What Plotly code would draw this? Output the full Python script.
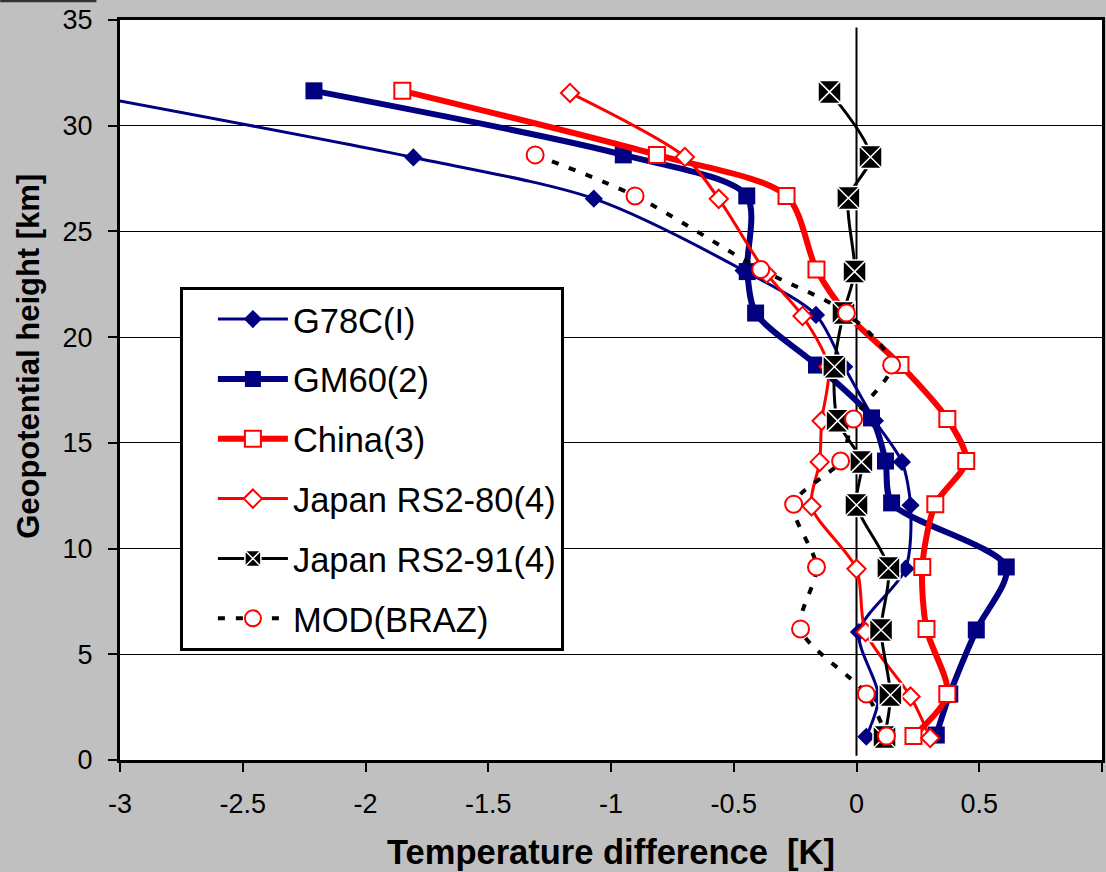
import plotly.graph_objects as go

# ---------------- data ----------------
g78c_x = [-3.2, -1.805, -1.07, -0.46, -0.165, -0.05, 0.075, 0.185, 0.22, 0.20, 0.01, 0.09, 0.04]
g78c_y = [31.6, 28.5, 26.55, 23.15, 21.05, 18.6, 16.05, 14.1, 12.05, 9.05, 6.05, 3.0, 1.1]

gm60_x = [-2.21, -0.95, -0.447, -0.445, -0.411, -0.163, 0.061, 0.118, 0.143, 0.61, 0.488, 0.38, 0.325]
gm60_y = [31.65, 28.62, 26.68, 23.1, 21.14, 18.68, 16.18, 14.14, 12.16, 9.13, 6.15, 3.12, 1.18]

china_x = [-1.85, -0.813, -0.285, -0.163, -0.04, 0.179, 0.37, 0.447, 0.321, 0.268, 0.285, 0.37, 0.232]
china_y = [31.65, 28.62, 26.68, 23.2, 21.1, 18.68, 16.13, 14.14, 12.1, 9.13, 6.2, 3.12, 1.13]

rs280_x = [-1.167, -0.699, -0.561, -0.366, -0.22, -0.114, -0.142, -0.15, -0.183, 0.0, 0.037, 0.22, 0.30]
rs280_y = [31.55, 28.52, 26.54, 23.0, 21.0, 18.6, 16.04, 14.1, 12.0, 9.04, 6.05, 3.0, 1.04]

rs291_x = [-0.11, 0.057, -0.033, -0.008, -0.053, -0.09, -0.077, 0.02, 0.0, 0.13, 0.10, 0.138, 0.114]
rs291_y = [31.6, 28.52, 26.58, 23.1, 21.14, 18.6, 16.04, 14.1, 12.06, 9.08, 6.15, 3.07, 1.09]

mod_x = [-1.309, -0.902, -0.39, -0.041, 0.143, -0.012, -0.065, -0.256, -0.163, -0.228, 0.04, 0.122]
mod_y = [28.62, 26.68, 23.2, 21.14, 18.68, 16.13, 14.14, 12.1, 9.13, 6.2, 3.12, 1.13]

x_ticks = [-3, -2.5, -2, -1.5, -1, -0.5, 0, 0.5, 1]
x_tick_labels = ["-3", "-2.5", "-2", "-1.5", "-1", "-0.5", "0", "0.5", "1"]
y_ticks = [0, 5, 10, 15, 20, 25, 30, 35]
y_tick_labels = ["0", "5", "10", "15", "20", "25", "30", "35"]

zero_line_x = [0, 0]
zero_line_y = [0.2, 34.65]

FONT = "Liberation Sans, Arial, sans-serif"
NAVY = "#000080"
RED = "#ff0000"

fig = go.Figure()

# reference vertical line at zero
fig.add_trace(go.Scatter(x=zero_line_x, y=zero_line_y, mode="lines",
                         line=dict(color="black", width=2), showlegend=False,
                         hoverinfo="skip"))

fig.add_trace(go.Scatter(
    x=g78c_x, y=g78c_y, name="G78C(I)", mode="lines+markers", legendgroup="a",
    line=dict(color=NAVY, width=3, shape="spline", smoothing=0.8),
    marker=dict(symbol="diamond", size=14, color=NAVY, line=dict(width=0))))

fig.add_trace(go.Scatter(
    x=gm60_x, y=gm60_y, name="GM60(2)", mode="lines+markers", legendgroup="b",
    line=dict(color=NAVY, width=6, shape="spline", smoothing=0.8),
    marker=dict(symbol="square", size=17, color=NAVY, line=dict(width=0))))

fig.add_trace(go.Scatter(
    x=china_x, y=china_y, name="China(3)", mode="lines+markers", legendgroup="c",
    line=dict(color=RED, width=6, shape="spline", smoothing=0.8),
    marker=dict(symbol="square", size=16, color="white", line=dict(color=RED, width=2))))

fig.add_trace(go.Scatter(
    x=rs280_x, y=rs280_y, name="Japan RS2-80(4)", mode="lines+markers", legendgroup="d",
    line=dict(color=RED, width=3, shape="spline", smoothing=0.8),
    marker=dict(symbol="diamond", size=14, color="white", line=dict(color=RED, width=2))))

fig.add_trace(go.Scatter(
    x=rs291_x, y=rs291_y, name="Japan RS2-91(4)", mode="lines+markers", legendgroup="e",
    line=dict(color="black", width=3, shape="spline", smoothing=0.8),
    marker=dict(symbol="square-x", size=23, color="black", line=dict(color="white", width=1.5))))

fig.add_trace(go.Scatter(
    x=mod_x, y=mod_y, name="MOD(BRAZ)", mode="lines+markers", legendgroup="f",
    line=dict(color="black", width=4, dash="7px,11px", shape="spline", smoothing=0.8),
    marker=dict(symbol="circle", size=17, color="white", line=dict(color=RED, width=2))))

axis_common = dict(showline=True, linecolor="black", linewidth=3, mirror=True,
                   ticks="outside", ticklen=9, tickwidth=1.5, tickcolor="black",
                   tickfont=dict(family=FONT, size=27, color="black"),
                   zeroline=False)

fig.update_xaxes(range=[-3, 1], tickvals=x_ticks, ticktext=x_tick_labels,
                 showgrid=False, ticklabelstandoff=9, **axis_common)
fig.update_yaxes(range=[0, 35], tickvals=y_ticks, ticktext=y_tick_labels,
                 showgrid=True, gridcolor="black", gridwidth=1,
                 ticklabelstandoff=10, **axis_common)

fig.update_layout(
    width=1106, height=872,
    margin=dict(l=120, r=1, t=20, b=112),
    paper_bgcolor="#c0c0c0", plot_bgcolor="white",
    font=dict(family=FONT, color="black"),
    showlegend=True,
    legend=dict(x=0.061, y=0.639, xanchor="left", yanchor="top",
                bgcolor="white", bordercolor="black", borderwidth=3,
                font=dict(family=FONT, size=34.5, color="black"),
                traceorder="grouped", tracegroupgap=12,
                itemwidth=70, indentation=30),
    annotations=[
        dict(text="<b>Geopotential height [km]</b>", xref="paper", yref="paper",
             x=-0.0925, y=0.545, xanchor="center", yanchor="middle", textangle=-90,
             showarrow=False, font=dict(family=FONT, size=31, color="black")),
        dict(text="<b>Temperature difference \u00a0[K]</b>", xref="paper", yref="paper",
             x=0.4995, y=-0.1243, xanchor="center", yanchor="middle",
             showarrow=False, font=dict(family=FONT, size=34.5, color="black")),
    ],
    shapes=[dict(type="line", xref="paper", yref="paper",
                 x0=-0.122, x1=-0.024, y0=1.026, y1=1.026,
                 line=dict(color="#333333", width=3))],
)

fig.write_html("out.html")
